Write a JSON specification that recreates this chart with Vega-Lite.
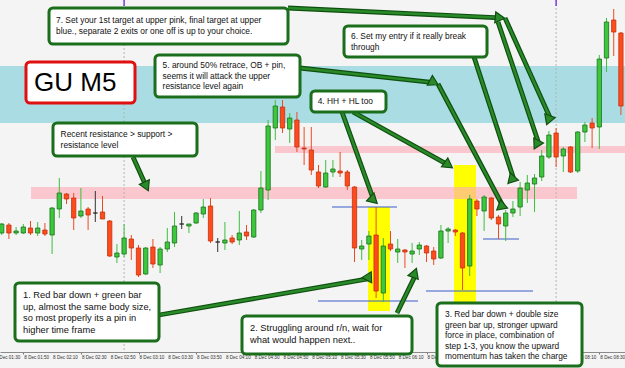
{
  "$schema": "https://vega.github.io/schema/vega-lite/v6.json",
  "width": 625,
  "height": 352,
  "autosize": "none",
  "padding": {"left": 0, "top": 0, "right": 0, "bottom": 16},
  "background": "#f4f4f4",
  "config": {"view": {"stroke": null}, "axis": {"title": null}},
  "layer": [
    {
      "data": {"values": [
        {"kind": "blue", "t1": "2014-12-08T01:33:49", "t2": "2014-12-08T08:47:50", "p1": 1.5634, "p2": 1.5577},
        {"kind": "yellow", "t1": "2014-12-08T05:49:22", "t2": "2014-12-08T06:04:39", "p1": 1.5493, "p2": 1.5389},
        {"kind": "yellow", "t1": "2014-12-08T06:49:06", "t2": "2014-12-08T07:04:22", "p1": 1.5535, "p2": 1.5398},
        {"kind": "pink", "t1": "2014-12-08T04:44:47", "t2": "2014-12-08T08:47:50", "p1": 1.5554, "p2": 1.5547},
        {"kind": "pink", "t1": "2014-12-08T01:55:21", "t2": "2014-12-08T08:14:31", "p1": 1.5513, "p2": 1.5501}
      ], "format": {"parse": {"t1": "date", "t2": "date"}}},
      "mark": {"type": "rect"},
      "encoding": {
        "x": {"field": "t1", "type": "temporal",
          "scale": {"padding": 0, "domain": [
            {"year": 2014, "month": 12, "date": 8, "hours": 1, "minutes": 33, "seconds": 49},
            {"year": 2014, "month": 12, "date": 8, "hours": 8, "minutes": 47, "seconds": 50}]},
          "axis": {
            "labels": false,
            "tickSize": 2,
            "tickColor": "#777777",
            "domainColor": "#8a8a8a",
            "grid": false,
            "values": [
              {"year": 2014, "month": 12, "date": 8, "hours": 1, "minutes": 50},
              {"year": 2014, "month": 12, "date": 8, "hours": 2, "minutes": 10},
              {"year": 2014, "month": 12, "date": 8, "hours": 2, "minutes": 30},
              {"year": 2014, "month": 12, "date": 8, "hours": 2, "minutes": 50},
              {"year": 2014, "month": 12, "date": 8, "hours": 3, "minutes": 10},
              {"year": 2014, "month": 12, "date": 8, "hours": 3, "minutes": 30},
              {"year": 2014, "month": 12, "date": 8, "hours": 3, "minutes": 50},
              {"year": 2014, "month": 12, "date": 8, "hours": 4, "minutes": 10},
              {"year": 2014, "month": 12, "date": 8, "hours": 4, "minutes": 30},
              {"year": 2014, "month": 12, "date": 8, "hours": 4, "minutes": 50},
              {"year": 2014, "month": 12, "date": 8, "hours": 5, "minutes": 10},
              {"year": 2014, "month": 12, "date": 8, "hours": 5, "minutes": 30},
              {"year": 2014, "month": 12, "date": 8, "hours": 5, "minutes": 50},
              {"year": 2014, "month": 12, "date": 8, "hours": 6, "minutes": 10},
              {"year": 2014, "month": 12, "date": 8, "hours": 6, "minutes": 30},
              {"year": 2014, "month": 12, "date": 8, "hours": 6, "minutes": 50},
              {"year": 2014, "month": 12, "date": 8, "hours": 7, "minutes": 10},
              {"year": 2014, "month": 12, "date": 8, "hours": 7, "minutes": 30},
              {"year": 2014, "month": 12, "date": 8, "hours": 7, "minutes": 50},
              {"year": 2014, "month": 12, "date": 8, "hours": 8, "minutes": 10},
              {"year": 2014, "month": 12, "date": 8, "hours": 8, "minutes": 30}
            ]
          }},
        "x2": {"field": "t2"},
        "y": {"field": "p1", "type": "quantitative", "scale": {"domain": [1.5348, 1.57], "nice": false, "zero": false, "padding": 0}, "axis": null},
        "y2": {"field": "p2"},
        "fill": {"field": "kind", "type": "nominal", "scale": {"domain": ["blue", "yellow", "pink"], "range": ["#aadce4", "#ffff00", "#ffabb8"]}, "legend": null},
        "opacity": {"condition": {"test": "datum.kind === 'pink'", "value": 0.62}, "value": 1}
      }
    },
    {
      "mark": {"type": "rule", "color": "#d8d8f2", "strokeWidth": 2},
      "encoding": {"y": {"datum": 1.545}}
    },
    {
      "data": {"values": [{"t": "2014-12-08T03:00:00"}, {"t": "2014-12-08T08:00:00"}], "format": {"parse": {"t": "date"}}},
      "layer": [
        {"mark": {"type": "rule", "color": "#b4b4b4", "strokeDash": [2, 2], "strokeWidth": 1},
         "encoding": {"x": {"field": "t", "type": "temporal"}}},
        {"mark": {"type": "rule", "color": "#7b3fe0", "strokeWidth": 1.5},
         "encoding": {"x": {"field": "t", "type": "temporal"}, "y": {"datum": 1.57}, "y2": {"datum": 1.5694}}}
      ]
    },
    {
      "data": {"values": [
        {"t1": "2014-12-08T05:24:22", "t2": "2014-12-08T06:09:31", "p": 1.5493},
        {"t1": "2014-12-08T05:14:39", "t2": "2014-12-08T06:24:06", "p": 1.5399},
        {"t1": "2014-12-08T06:29:39", "t2": "2014-12-08T07:43:58", "p": 1.5409},
        {"t1": "2014-12-08T07:09:14", "t2": "2014-12-08T07:34:14", "p": 1.5461}
      ], "format": {"parse": {"t1": "date", "t2": "date"}}},
      "mark": {"type": "rule", "color": "#3a5cc8", "strokeWidth": 1.2},
      "encoding": {
        "x": {"field": "t1", "type": "temporal"},
        "x2": {"field": "t2"},
        "y": {"field": "p", "type": "quantitative"}
      }
    },
    {
      "data": {"values": [
        {"t": "2014-12-08T01:35", "o": 1.5467, "h": 1.5477, "l": 1.5465, "c": 1.5476},
        {"t": "2014-12-08T01:40", "o": 1.5475, "h": 1.5477, "l": 1.5461, "c": 1.5467},
        {"t": "2014-12-08T01:45", "o": 1.5467, "h": 1.5473, "l": 1.5465, "c": 1.5469},
        {"t": "2014-12-08T01:50", "o": 1.5467, "h": 1.5476, "l": 1.5466, "c": 1.5473},
        {"t": "2014-12-08T01:55", "o": 1.5472, "h": 1.5479, "l": 1.5465, "c": 1.5467},
        {"t": "2014-12-08T02:00", "o": 1.5467, "h": 1.5478, "l": 1.5464, "c": 1.5472},
        {"t": "2014-12-08T02:05", "o": 1.5470, "h": 1.5477, "l": 1.5464, "c": 1.5466},
        {"t": "2014-12-08T02:10", "o": 1.5465, "h": 1.5493, "l": 1.5446, "c": 1.5492},
        {"t": "2014-12-08T02:15", "o": 1.5491, "h": 1.5522, "l": 1.5482, "c": 1.5507},
        {"t": "2014-12-08T02:20", "o": 1.5506, "h": 1.5507, "l": 1.5496, "c": 1.5501},
        {"t": "2014-12-08T02:25", "o": 1.5502, "h": 1.5507, "l": 1.5470, "c": 1.5482},
        {"t": "2014-12-08T02:30", "o": 1.5484, "h": 1.5512, "l": 1.5482, "c": 1.5489},
        {"t": "2014-12-08T02:35", "o": 1.5491, "h": 1.5493, "l": 1.5470, "c": 1.5485},
        {"t": "2014-12-08T02:40", "o": 1.5487, "h": 1.5509, "l": 1.5478, "c": 1.5487},
        {"t": "2014-12-08T02:45", "o": 1.5488, "h": 1.5504, "l": 1.5481, "c": 1.5481},
        {"t": "2014-12-08T02:50", "o": 1.5479, "h": 1.5480, "l": 1.5443, "c": 1.5444},
        {"t": "2014-12-08T02:55", "o": 1.5443, "h": 1.5456, "l": 1.5437, "c": 1.5447},
        {"t": "2014-12-08T03:00", "o": 1.5446, "h": 1.5476, "l": 1.5443, "c": 1.5462},
        {"t": "2014-12-08T03:05", "o": 1.5461, "h": 1.5465, "l": 1.5440, "c": 1.5452},
        {"t": "2014-12-08T03:10", "o": 1.5452, "h": 1.5455, "l": 1.5423, "c": 1.5425},
        {"t": "2014-12-08T03:15", "o": 1.5426, "h": 1.5453, "l": 1.5425, "c": 1.5452},
        {"t": "2014-12-08T03:20", "o": 1.5453, "h": 1.5461, "l": 1.5432, "c": 1.5436},
        {"t": "2014-12-08T03:25", "o": 1.5435, "h": 1.5453, "l": 1.5427, "c": 1.5451},
        {"t": "2014-12-08T03:30", "o": 1.5451, "h": 1.5472, "l": 1.5448, "c": 1.5458},
        {"t": "2014-12-08T03:35", "o": 1.5457, "h": 1.5488, "l": 1.5453, "c": 1.5474},
        {"t": "2014-12-08T03:40", "o": 1.5476, "h": 1.5484, "l": 1.5471, "c": 1.5476},
        {"t": "2014-12-08T03:45", "o": 1.5474, "h": 1.5476, "l": 1.5467, "c": 1.5476},
        {"t": "2014-12-08T03:50", "o": 1.5477, "h": 1.5488, "l": 1.5476, "c": 1.5487},
        {"t": "2014-12-08T03:55", "o": 1.5486, "h": 1.5501, "l": 1.5482, "c": 1.5493},
        {"t": "2014-12-08T04:00", "o": 1.5494, "h": 1.5502, "l": 1.5457, "c": 1.5459},
        {"t": "2014-12-08T04:05", "o": 1.5458, "h": 1.5462, "l": 1.5448, "c": 1.5458},
        {"t": "2014-12-08T04:10", "o": 1.5457, "h": 1.5478, "l": 1.5450, "c": 1.5460},
        {"t": "2014-12-08T04:15", "o": 1.5462, "h": 1.5465, "l": 1.5456, "c": 1.5458},
        {"t": "2014-12-08T04:20", "o": 1.5460, "h": 1.5489, "l": 1.5455, "c": 1.5467},
        {"t": "2014-12-08T04:25", "o": 1.5468, "h": 1.5475, "l": 1.5460, "c": 1.5464},
        {"t": "2014-12-08T04:30", "o": 1.5463, "h": 1.5491, "l": 1.5462, "c": 1.5490},
        {"t": "2014-12-08T04:35", "o": 1.5490, "h": 1.5529, "l": 1.5487, "c": 1.5512},
        {"t": "2014-12-08T04:40", "o": 1.5510, "h": 1.5580, "l": 1.5500, "c": 1.5574},
        {"t": "2014-12-08T04:45", "o": 1.5572, "h": 1.5600, "l": 1.5560, "c": 1.5594},
        {"t": "2014-12-08T04:50", "o": 1.5593, "h": 1.5600, "l": 1.5567, "c": 1.5572},
        {"t": "2014-12-08T04:55", "o": 1.5571, "h": 1.5587, "l": 1.5557, "c": 1.5582},
        {"t": "2014-12-08T05:00", "o": 1.5580, "h": 1.5588, "l": 1.5548, "c": 1.5553},
        {"t": "2014-12-08T05:05", "o": 1.5552, "h": 1.5573, "l": 1.5535, "c": 1.5551},
        {"t": "2014-12-08T05:10", "o": 1.5550, "h": 1.5573, "l": 1.5525, "c": 1.5530},
        {"t": "2014-12-08T05:15", "o": 1.5528, "h": 1.5535, "l": 1.5512, "c": 1.5514},
        {"t": "2014-12-08T05:20", "o": 1.5513, "h": 1.5540, "l": 1.5512, "c": 1.5527},
        {"t": "2014-12-08T05:25", "o": 1.5528, "h": 1.5540, "l": 1.5523, "c": 1.5531},
        {"t": "2014-12-08T05:30", "o": 1.5529, "h": 1.5548, "l": 1.5523, "c": 1.5527},
        {"t": "2014-12-08T05:35", "o": 1.5528, "h": 1.5530, "l": 1.5510, "c": 1.5514},
        {"t": "2014-12-08T05:40", "o": 1.5513, "h": 1.5514, "l": 1.5438, "c": 1.5452},
        {"t": "2014-12-08T05:45", "o": 1.5451, "h": 1.5460, "l": 1.5440, "c": 1.5454},
        {"t": "2014-12-08T05:50", "o": 1.5456, "h": 1.5469, "l": 1.5440, "c": 1.5464},
        {"t": "2014-12-08T05:55", "o": 1.5465, "h": 1.5493, "l": 1.5402, "c": 1.5409},
        {"t": "2014-12-08T06:00", "o": 1.5407, "h": 1.5462, "l": 1.5398, "c": 1.5454},
        {"t": "2014-12-08T06:05", "o": 1.5456, "h": 1.5469, "l": 1.5449, "c": 1.5451},
        {"t": "2014-12-08T06:10", "o": 1.5448, "h": 1.5461, "l": 1.5437, "c": 1.5451},
        {"t": "2014-12-08T06:15", "o": 1.5450, "h": 1.5451, "l": 1.5432, "c": 1.5448},
        {"t": "2014-12-08T06:20", "o": 1.5446, "h": 1.5457, "l": 1.5437, "c": 1.5449},
        {"t": "2014-12-08T06:25", "o": 1.5451, "h": 1.5458, "l": 1.5445, "c": 1.5455},
        {"t": "2014-12-08T06:30", "o": 1.5454, "h": 1.5455, "l": 1.5438, "c": 1.5447},
        {"t": "2014-12-08T06:35", "o": 1.5449, "h": 1.5453, "l": 1.5435, "c": 1.5441},
        {"t": "2014-12-08T06:40", "o": 1.5442, "h": 1.5475, "l": 1.5441, "c": 1.5469},
        {"t": "2014-12-08T06:45", "o": 1.5469, "h": 1.5473, "l": 1.5457, "c": 1.5471},
        {"t": "2014-12-08T06:50", "o": 1.5470, "h": 1.5471, "l": 1.5464, "c": 1.5468},
        {"t": "2014-12-08T06:55", "o": 1.5467, "h": 1.5468, "l": 1.5410, "c": 1.5432},
        {"t": "2014-12-08T07:00", "o": 1.5434, "h": 1.5505, "l": 1.5424, "c": 1.5501},
        {"t": "2014-12-08T07:05", "o": 1.5499, "h": 1.5501, "l": 1.5484, "c": 1.5491},
        {"t": "2014-12-08T07:10", "o": 1.5489, "h": 1.5505, "l": 1.5469, "c": 1.5503},
        {"t": "2014-12-08T07:15", "o": 1.5502, "h": 1.5503, "l": 1.5480, "c": 1.5482},
        {"t": "2014-12-08T07:20", "o": 1.5483, "h": 1.5485, "l": 1.5461, "c": 1.5476},
        {"t": "2014-12-08T07:25", "o": 1.5474, "h": 1.5490, "l": 1.5459, "c": 1.5487},
        {"t": "2014-12-08T07:30", "o": 1.5487, "h": 1.5499, "l": 1.5483, "c": 1.5491},
        {"t": "2014-12-08T07:35", "o": 1.5493, "h": 1.5518, "l": 1.5484, "c": 1.5512},
        {"t": "2014-12-08T07:40", "o": 1.5510, "h": 1.5525, "l": 1.5497, "c": 1.5517},
        {"t": "2014-12-08T07:45", "o": 1.5516, "h": 1.5526, "l": 1.5488, "c": 1.5522},
        {"t": "2014-12-08T07:50", "o": 1.5523, "h": 1.5550, "l": 1.5519, "c": 1.5544},
        {"t": "2014-12-08T07:55", "o": 1.5543, "h": 1.5569, "l": 1.5541, "c": 1.5565},
        {"t": "2014-12-08T08:00", "o": 1.5567, "h": 1.5572, "l": 1.5533, "c": 1.5543},
        {"t": "2014-12-08T08:05", "o": 1.5544, "h": 1.5553, "l": 1.5528, "c": 1.5551},
        {"t": "2014-12-08T08:10", "o": 1.5553, "h": 1.5554, "l": 1.5527, "c": 1.5528},
        {"t": "2014-12-08T08:15", "o": 1.5529, "h": 1.5569, "l": 1.5527, "c": 1.5568},
        {"t": "2014-12-08T08:20", "o": 1.5568, "h": 1.5578, "l": 1.5558, "c": 1.5575},
        {"t": "2014-12-08T08:25", "o": 1.5577, "h": 1.5582, "l": 1.5552, "c": 1.5572},
        {"t": "2014-12-08T08:30", "o": 1.5573, "h": 1.5645, "l": 1.5551, "c": 1.5641},
        {"t": "2014-12-08T08:35", "o": 1.5642, "h": 1.5682, "l": 1.5628, "c": 1.5678},
        {"t": "2014-12-08T08:40", "o": 1.5680, "h": 1.5691, "l": 1.5644, "c": 1.5668},
        {"t": "2014-12-08T08:45", "o": 1.5667, "h": 1.5668, "l": 1.5585, "c": 1.5594}
      ], "format": {"parse": {"t": "date"}}},
      "layer": [
        {
          "mark": {"type": "rule", "strokeWidth": 1},
          "encoding": {
            "x": {"field": "t", "type": "temporal"},
            "y": {"field": "l", "type": "quantitative"},
            "y2": {"field": "h"},
            "color": {"condition": [{"test": "datum.c > datum.o", "value": "#3cbf3c"}, {"test": "datum.c < datum.o", "value": "#ee4a22"}], "value": "#333333"}
          }
        },
        {
          "mark": {"type": "bar", "size": 4.3, "strokeWidth": 0.8},
          "encoding": {
            "x": {"field": "t", "type": "temporal"},
            "y": {"field": "o", "type": "quantitative"},
            "y2": {"field": "c"},
            "fill": {"condition": [{"test": "datum.c > datum.o", "value": "#3cc83c"}, {"test": "datum.c < datum.o", "value": "#ff4a1c"}], "value": "#333333"},
            "stroke": {"condition": [{"test": "datum.c > datum.o", "value": "#1d6e1d"}, {"test": "datum.c < datum.o", "value": "#c2340f"}], "value": "#222222"}
          }
        }
      ]
    },
    {
      "data": {"values": [
        {"t": "2014-12-08T01:30"}, {"t": "2014-12-08T01:50"}, {"t": "2014-12-08T02:10"}, {"t": "2014-12-08T02:30"},
        {"t": "2014-12-08T02:50"}, {"t": "2014-12-08T03:10"}, {"t": "2014-12-08T03:30"}, {"t": "2014-12-08T03:50"},
        {"t": "2014-12-08T04:10"}, {"t": "2014-12-08T04:30"}, {"t": "2014-12-08T04:50"}, {"t": "2014-12-08T05:10"},
        {"t": "2014-12-08T05:30"}, {"t": "2014-12-08T05:50"}, {"t": "2014-12-08T06:10"}, {"t": "2014-12-08T06:30"},
        {"t": "2014-12-08T06:50"}, {"t": "2014-12-08T07:10"}, {"t": "2014-12-08T07:30"}, {"t": "2014-12-08T07:50"},
        {"t": "2014-12-08T08:10"}, {"t": "2014-12-08T08:30"}
      ], "format": {"parse": {"t": "date"}}},
      "mark": {"type": "text", "align": "left", "baseline": "top", "dx": 1, "dy": 2.5, "font": "Liberation Sans", "fontSize": 4.6, "color": "#333333"},
      "encoding": {
        "x": {"field": "t", "type": "temporal"},
        "y": {"datum": 1.5348},
        "text": {"field": "t", "type": "temporal", "format": "%-d %b %H:%M"}
      }
    },
    {
      "data": {"values": [
        {"id": "a1", "t1": "2014-12-08T03:06:11", "p1": 1.5543, "t2": "2014-12-08T03:15:25", "p2": 1.55136},
        {"id": "a2", "t1": "2014-12-08T03:24:14", "p1": 1.5385, "t2": "2014-12-08T05:50:08", "p2": 1.54213},
        {"id": "a3", "t1": "2014-12-08T06:09:31", "p1": 1.5387, "t2": "2014-12-08T06:22:09", "p2": 1.54244},
        {"id": "a4a", "t1": "2014-12-08T05:31:19", "p1": 1.5588, "t2": "2014-12-08T05:53:20", "p2": 1.54998},
        {"id": "a4b", "t1": "2014-12-08T05:38:58", "p1": 1.5588, "t2": "2014-12-08T06:45:17", "p2": 1.55349},
        {"id": "a5a", "t1": "2014-12-08T05:02:09", "p1": 1.5632, "t2": "2014-12-08T06:35:13", "p2": 1.56174},
        {"id": "a5b", "t1": "2014-12-08T06:37:59", "p1": 1.5616, "t2": "2014-12-08T07:23:11", "p2": 1.54935},
        {"id": "a6", "t1": "2014-12-08T07:02:59", "p1": 1.5643, "t2": "2014-12-08T07:30:37", "p2": 1.55208},
        {"id": "a7a", "t1": "2014-12-08T04:53:49", "p1": 1.5692, "t2": "2014-12-08T07:21:02", "p2": 1.56822},
        {"id": "a7b", "t1": "2014-12-08T07:19:39", "p1": 1.5678, "t2": "2014-12-08T07:47:55", "p2": 1.55568},
        {"id": "a7c", "t1": "2014-12-08T07:24:31", "p1": 1.5682, "t2": "2014-12-08T07:56:02", "p2": 1.55816}
      ], "format": {"parse": {"t1": "date", "t2": "date"}}},
      "layer": [
        {
          "mark": {"type": "rule", "color": "#0e4f0e", "strokeWidth": 4.8},
          "encoding": {
            "x": {"field": "t1", "type": "temporal"}, "x2": {"field": "t2"},
            "y": {"field": "p1", "type": "quantitative"}, "y2": {"field": "p2"}
          }
        },
        {
          "mark": {"type": "rule", "color": "#2a8a2a", "strokeWidth": 2.4},
          "encoding": {
            "x": {"field": "t1", "type": "temporal"}, "x2": {"field": "t2"},
            "y": {"field": "p1", "type": "quantitative"}, "y2": {"field": "p2"}
          }
        },
        {
          "mark": {"type": "point", "shape": "triangle-up", "filled": true, "fill": "#2a8a2a", "stroke": "#0e4f0e", "strokeWidth": 1.2, "size": 120, "opacity": 1},
          "encoding": {
            "x": {"field": "t2", "type": "temporal"},
            "y": {"field": "p2", "type": "quantitative"},
            "angle": {"field": "id", "type": "nominal",
              "scale": {"domain": ["a1", "a2", "a3", "a4a", "a4b", "a5a", "a5b", "a6", "a7a", "a7b", "a7c"],
                        "range": [155.4, 80.2, 26, 160.8, 119.1, 96.2, 152, 162, 92.7, 161.4, 155.7]},
              "legend": null}
          }
        }
      ]
    },
    {
      "data": {"values": [
        {"id": "gu", "t1": "2014-12-08T01:51:52", "t2": "2014-12-08T03:07:34", "p1": 1.5638, "p2": 1.5597},
        {"id": "b7", "t1": "2014-12-08T02:07:51", "t2": "2014-12-08T04:53:49", "p1": 1.5692, "p2": 1.5656},
        {"id": "b6", "t1": "2014-12-08T05:32:43", "t2": "2014-12-08T07:12:01", "p1": 1.5674, "p2": 1.5643},
        {"id": "b5", "t1": "2014-12-08T03:21:28", "t2": "2014-12-08T05:02:09", "p1": 1.5645, "p2": 1.5603},
        {"id": "b4", "t1": "2014-12-08T05:09:47", "t2": "2014-12-08T06:01:52", "p1": 1.5609, "p2": 1.5588},
        {"id": "rec", "t1": "2014-12-08T02:10:37", "t2": "2014-12-08T03:50:37", "p1": 1.5577, "p2": 1.5544},
        {"id": "b1", "t1": "2014-12-08T01:44:14", "t2": "2014-12-08T03:24:14", "p1": 1.5417, "p2": 1.5359},
        {"id": "b2", "t1": "2014-12-08T04:21:52", "t2": "2014-12-08T06:19:56", "p1": 1.5384, "p2": 1.5346},
        {"id": "b3", "t1": "2014-12-08T06:37:17", "t2": "2014-12-08T08:17:59", "p1": 1.5397, "p2": 1.5334}
      ], "format": {"parse": {"t1": "date", "t2": "date"}}},
      "mark": {"type": "rect", "fill": "#ffffff", "strokeWidth": 3, "cornerRadius": 4},
      "encoding": {
        "x": {"field": "t1", "type": "temporal"}, "x2": {"field": "t2"},
        "y": {"field": "p1", "type": "quantitative"}, "y2": {"field": "p2"},
        "stroke": {"condition": {"test": "datum.id === 'gu'", "value": "#e01010"}, "value": "#1b6e1b"}
      }
    },
    {
      "data": {"values": [
        {"g": "t", "t": "2014-12-08T01:57:26", "p": 1.5617, "s": "GU M5"},
        {"g": "b", "t": "2014-12-08T02:12:43", "p": 1.5680, "s": "7. Set your 1st target at upper pink, final target at upper"},
        {"g": "b", "t": "2014-12-08T02:12:43", "p": 1.5669, "s": "blue., separate 2 exits or one off is up to your choice."},
        {"g": "b", "t": "2014-12-08T05:37:34", "p": 1.5664, "s": "6. Set my entry if it really break"},
        {"g": "b", "t": "2014-12-08T05:37:34", "p": 1.5653, "s": "through"},
        {"g": "b", "t": "2014-12-08T03:26:44", "p": 1.5635, "s": "5. around 50% retrace, OB + pin,"},
        {"g": "b", "t": "2014-12-08T03:26:44", "p": 1.56245, "s": "seems it will attack the upper"},
        {"g": "b", "t": "2014-12-08T03:26:44", "p": 1.5614, "s": "resistance level again"},
        {"g": "b", "t": "2014-12-08T05:14:26", "p": 1.5599, "s": "4. HH + HL too"},
        {"g": "b", "t": "2014-12-08T02:15:54", "p": 1.5566, "s": "Recent resistance > support >"},
        {"g": "b", "t": "2014-12-08T02:15:54", "p": 1.5555, "s": "resistance level"},
        {"g": "a", "t": "2014-12-08T01:49:47", "p": 1.5405, "s": "1. Red bar down + green bar"},
        {"g": "a", "t": "2014-12-08T01:49:47", "p": 1.53935, "s": "up, almost the same body size,"},
        {"g": "a", "t": "2014-12-08T01:49:47", "p": 1.5382, "s": "so most properly its a pin in"},
        {"g": "a", "t": "2014-12-08T01:49:47", "p": 1.53705, "s": "higher time frame"},
        {"g": "a", "t": "2014-12-08T04:27:26", "p": 1.5372, "s": "2. Struggling around r/n, wait for"},
        {"g": "a", "t": "2014-12-08T04:27:26", "p": 1.5360, "s": "what would happen next.."},
        {"g": "b", "t": "2014-12-08T06:42:51", "p": 1.5386, "s": "3. Red bar down + double size"},
        {"g": "b", "t": "2014-12-08T06:42:51", "p": 1.53755, "s": "green bar up, stronger upward"},
        {"g": "b", "t": "2014-12-08T06:42:51", "p": 1.5365, "s": "force in place, combination of"},
        {"g": "b", "t": "2014-12-08T06:42:51", "p": 1.53545, "s": "step 1-3, you know the upward"},
        {"g": "b", "t": "2014-12-08T06:42:51", "p": 1.5344, "s": "momentum has taken the charge"}
      ], "format": {"parse": {"t": "date"}}},
      "layer": [
        {
          "transform": [{"filter": "datum.g === 't'"}],
          "mark": {"type": "text", "align": "left", "baseline": "middle", "font": "Liberation Sans", "fontSize": 26, "color": "#000000"},
          "encoding": {"x": {"field": "t", "type": "temporal"}, "y": {"field": "p", "type": "quantitative"}, "text": {"field": "s"}}
        },
        {
          "transform": [{"filter": "datum.g === 'a'"}],
          "mark": {"type": "text", "align": "left", "baseline": "middle", "font": "Liberation Sans", "fontSize": 9.3, "color": "#111111"},
          "encoding": {"x": {"field": "t", "type": "temporal"}, "y": {"field": "p", "type": "quantitative"}, "text": {"field": "s"}}
        },
        {
          "transform": [{"filter": "datum.g === 'b'"}],
          "mark": {"type": "text", "align": "left", "baseline": "middle", "font": "Liberation Sans", "fontSize": 8.4, "color": "#111111"},
          "encoding": {"x": {"field": "t", "type": "temporal"}, "y": {"field": "p", "type": "quantitative"}, "text": {"field": "s"}}
        }
      ]
    }
  ]
}
